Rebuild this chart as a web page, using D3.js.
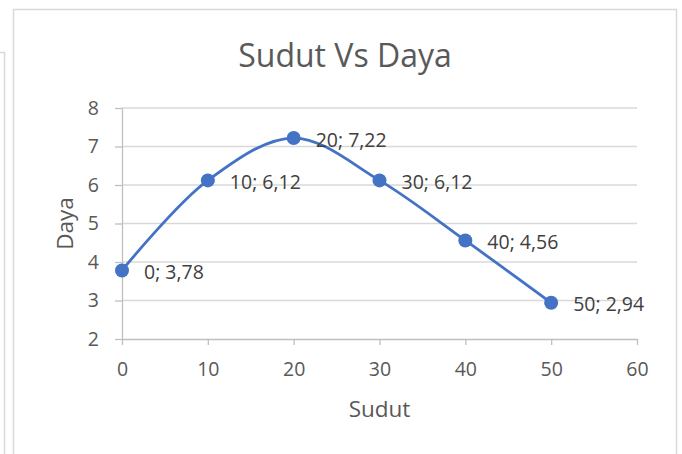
<!DOCTYPE html>
<html>
<head>
<meta charset="utf-8">
<script src="https://cdn.jsdelivr.net/npm/d3@7"></script>
<style>
  body { margin: 0; background: #fff; }
  svg { display: block; font-family: "Open Sans", sans-serif; }
</style>
</head>
<body>
<div id="chart"></div>
<script>
// chart data
var sudut = [0, 10, 20, 30, 40, 50];
var daya = [3.78, 6.12, 7.22, 6.12, 4.56, 2.94];
var xTicks = [0, 10, 20, 30, 40, 50, 60];
var yTicks = [2, 3, 4, 5, 6, 7, 8];

var W = 682, H = 454;
var margin = { top: 108, left: 122 },
	width = 637 - margin.left,
	height = 339 - margin.top;

var svg = d3.select("#chart")
	.append("svg")
	.attr("width", W)
	.attr("height", H);

// frames
svg.append("path")
	.attr("d", "M0,52.5 H4.5 V454")
	.attr("fill", "none")
	.attr("stroke", "#d9d9d9")
	.attr("stroke-width", 1.5);
svg.append("path")
	.attr("d", "M13.5,454 V9.5 H676.5 V454")
	.attr("fill", "none")
	.attr("stroke", "#d9d9d9")
	.attr("stroke-width", 1.5);

var g = svg.append("g")
	.attr("transform", "translate(" + margin.left + "," + margin.top + ")");

var x = d3.scaleLinear().domain([0, 60]).range([0, width]);
var y = d3.scaleLinear().domain([2, 8]).range([height, 0]);

// gridlines
g.selectAll(".grid")
	.data(yTicks.slice(1))
	.enter().append("line")
	.attr("x1", 0)
	.attr("x2", width)
	.attr("y1", function(d) { return y(d); })
	.attr("y2", function(d) { return y(d); })
	.attr("stroke", "#d9d9d9")
	.attr("stroke-width", 1.3);

// axes
var xAxis = g.append("g")
	.attr("transform", "translate(0," + height + ")")
	.call(d3.axisBottom(x).tickValues(xTicks).tickFormat(d3.format("d"))
		.tickSize(6).tickSizeOuter(0).tickPadding(17));

var yAxis = g.append("g")
	.call(d3.axisLeft(y).tickValues(yTicks).tickFormat(d3.format("d"))
		.tickSize(7).tickSizeOuter(0).tickPadding(16));

[xAxis, yAxis].forEach(function(a) {
	a.select(".domain").attr("stroke", "#bfbfbf").attr("stroke-width", 1.3);
	a.selectAll(".tick line").attr("stroke", "#bfbfbf").attr("stroke-width", 1.3);
	a.selectAll(".tick text")
		.attr("fill", "#595959")
		.style("font-size", "19.5px")
		.style("font-family", "'Open Sans', sans-serif");
});

// line
var pts = sudut.map(function(s, i) { return { s: s, d: daya[i] }; });

var line = d3.line()
	.x(function(d) { return x(d.s); })
	.y(function(d) { return y(d.d); })
	.curve(d3.curveCatmullRom.alpha(0.5));

g.append("path")
	.datum(pts)
	.attr("fill", "none")
	.attr("stroke", "#4472c4")
	.attr("stroke-width", 2.8)
	.attr("d", line);

g.selectAll(".dot")
	.data(pts)
	.enter().append("circle")
	.attr("cx", function(d) { return x(d.s); })
	.attr("cy", function(d) { return y(d.d); })
	.attr("r", 7)
	.attr("fill", "#4472c4");

g.selectAll(".lbl")
	.data(pts)
	.enter().append("text")
	.attr("x", function(d) { return x(d.s) + 22; })
	.attr("y", function(d) { return y(d.d) + 1.5; })
	.attr("dy", "0.36em")
	.attr("fill", "#404040")
	.style("font-size", "19.5px")
	.text(function(d) { return d.s + "; " + d.d.toFixed(2).replace(".", ","); });

// titles
svg.append("text")
	.attr("x", 345)
	.attr("y", 67)
	.attr("text-anchor", "middle")
	.attr("fill", "#595959")
	.style("font-size", "32px")
	.text("Sudut Vs Daya");

svg.append("text")
	.attr("x", margin.left + x(30))
	.attr("y", 417)
	.attr("text-anchor", "middle")
	.attr("fill", "#595959")
	.style("font-size", "22.5px")
	.text("Sudut");

svg.append("text")
	.attr("transform", "translate(73," + (margin.top + y(5)) + ") rotate(-90)")
	.attr("text-anchor", "middle")
	.attr("fill", "#595959")
	.style("font-size", "22.5px")
	.text("Daya");
</script>
</body>
</html>
